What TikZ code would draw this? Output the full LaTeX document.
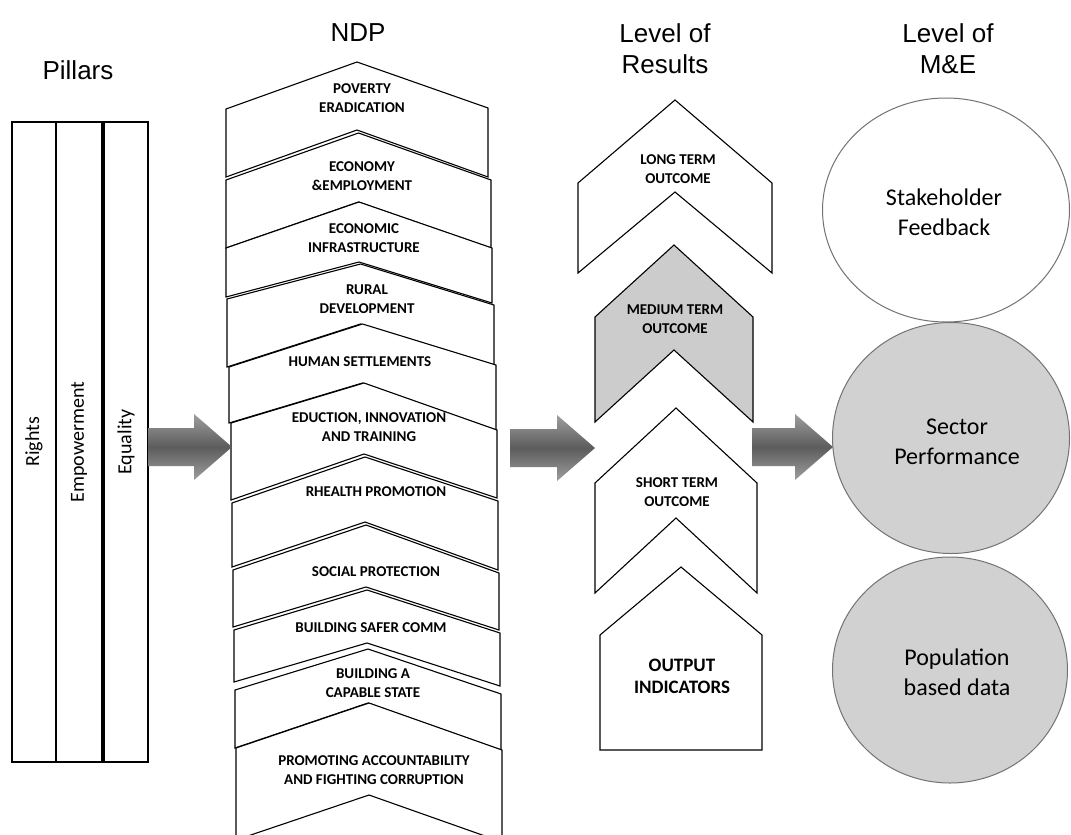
\documentclass[tikz,border=0pt]{standalone}
\usepackage{fontspec}
\usetikzlibrary{shapes.geometric}
\setmainfont{Carlito}
\newfontfamily\arialfont{Liberation Sans}
\definecolor{shadelight}{gray}{0.82}
\definecolor{medfill}{gray}{0.80}
\definecolor{arrowdark}{gray}{0.36}
\definecolor{arrowlight}{gray}{0.62}
\definecolor{circline}{gray}{0.45}
\newcommand{\chevshape}[9]{%
  \draw[#1] (#2,#5) -- ({(#2+#3)/2},#4) -- (#3,#6) -- (#3,#9) -- ({(#2+#3)/2},#7) -- (#2,#8) -- cycle;}
\newcommand{\blockarrow}[4]{%
  \coordinate (#1-tail) at (#2,#4);
  \coordinate (#1-tip) at (#3,#4);
  \path[bigarrow] (#2,#4-19) -- (#3-38,#4-19) -- (#3-38,#4-33) -- (#1-tip) -- (#3-38,#4+33) -- (#3-38,#4+19) -- (#2,#4+19) -- cycle;}
\begin{document}
\begin{tikzpicture}[x=1pt,y=-1pt,
  title/.style={font={\arialfont\fontsize{26}{31}\selectfont},align=center,inner sep=0pt},
  pillar/.style={draw=black,line width=1.3pt,fill=white},
  pillartext/.style={rotate=90,font={\fontsize{20}{24}\selectfont},inner sep=0pt},
  ndp/.style={draw=black,line width=1.1pt,fill=white,line join=miter},
  ndptext/.style={font={\bfseries\fontsize{15}{18.5}\selectfont},align=center,inner sep=0pt},
  reschev/.style={draw=black,line width=1.1pt,fill=white},
  resmed/.style={draw=black,line width=1.1pt,fill=medfill},
  bigarrow/.style={top color=arrowlight,bottom color=arrowlight,middle color=arrowdark,draw=none},
  mecircle/.style={ellipse,draw=circline,line width=1pt,inner sep=0pt,align=center,font={\fontsize{24}{30}\selectfont}},
  metext/.style={inner sep=0pt,align=center,font={\fontsize{24}{30}\selectfont}},
]
\useasboundingbox (0,0) rectangle (1071,835);
\fill[white] (0,0) rectangle (1071,835);

% ---------- titles ----------
\node[title] (tpil) at (78,70) {Pillars};
\node[title] (tndp) at (358,33) {NDP};
\node[title] (tres) at (665,49) {Level of\\Results};
\node[title] (tme) at (948,49) {Level of\\M\&E};

% ---------- pillars ----------
\draw[pillar] (12,122) rectangle (56,762);
\draw[pillar] (56,122) rectangle (102,762);
\draw[pillar] (104,122) rectangle (148,762);
\node[pillartext] (rights) at (34,442) {Rights};
\node[pillartext] (empow) at (79,442) {Empowerment};
\node[pillartext] (equal) at (126,442) {Equality};

% ---------- NDP chevrons ----------
\chevshape{ndp}{226}{488}{62}{109}{108}{130}{177}{177}
\chevshape{ndp}{226}{491}{133}{180}{180}{202}{248}{248}
\chevshape{ndp}{226}{492}{202}{248}{248}{262}{297}{303}
\chevshape{ndp}{227}{494}{264}{299}{305}{324}{367}{365}
\chevshape{ndp}{229}{496}{324}{367}{365}{383}{423}{430}
\chevshape{ndp}{231}{497}{383}{423}{430}{454}{500}{498}
\chevshape{ndp}{232}{498}{457}{503}{501}{522}{567}{570}
\chevshape{ndp}{233}{499}{525}{570}{573}{587}{627}{630}
\chevshape{ndp}{234}{500}{590}{630}{633}{643}{682}{686}
\chevshape{ndp}{235}{501}{649}{690}{694}{703}{748}{750}
\chevshape{ndp}{236}{502}{703}{748}{750}{795}{840}{842}

\node[ndptext] (n1) at (362,98) {POVERTY\\ERADICATION};
\node[ndptext] (n2) at (362,176) {ECONOMY\\\&EMPLOYMENT};
\node[ndptext] (n3) at (364,238) {ECONOMIC\\INFRASTRUCTURE};
\node[ndptext] (n4) at (367,299) {RURAL\\DEVELOPMENT};
\node[ndptext] (n5) at (360,362) {HUMAN SETTLEMENTS};
\node[ndptext] (n6) at (369,427) {EDUCTION, INNOVATION\\AND TRAINING};
\node[ndptext] (n7) at (376,492) {RHEALTH PROMOTION};
\node[ndptext] (n8) at (376,572) {SOCIAL PROTECTION};
\node[ndptext] (n9) at (371,628) {BUILDING SAFER COMM};
\node[ndptext] (n10) at (373,683) {BUILDING A\\CAPABLE STATE};
\node[ndptext] (n11) at (374,770) {PROMOTING ACCOUNTABILITY\\AND FIGHTING CORRUPTION};

% ---------- results chevrons ----------
\chevshape{reschev}{578}{772}{100}{183}{183}{192}{273}{273}
\chevshape{resmed}{595}{753}{245}{317}{317}{350}{422}{422}
\chevshape{reschev}{595}{757}{408}{483}{483}{518}{593}{593}
\draw[reschev] (600,750) -- (600,635) -- (681,567) -- (762,635) -- (762,750) -- cycle;
\node[ndptext] (r1) at (678,169) {LONG TERM\\OUTCOME};
\node[ndptext] (r2) at (675,319) {MEDIUM TERM\\OUTCOME};
\node[ndptext] (r3) at (677,492) {SHORT TERM\\OUTCOME};
\node[ndptext,font={\bfseries\fontsize{19}{22}\selectfont}] (r4) at (682,676) {OUTPUT\\INDICATORS};

% ---------- M&E circles ----------
\node[mecircle,fill=white,minimum width=247pt,minimum height=224pt] (c1) at (946,210) {};
\node[mecircle,fill=shadelight,minimum width=237pt,minimum height=231pt] (c2) at (951,438) {};
\node[mecircle,fill=shadelight,minimum width=235pt,minimum height=226pt] (c3) at (950,670) {};
\node[metext] (c1t) at (944,212) {Stakeholder\\Feedback};
\node[metext] (c2t) at (957,442) {Sector\\Performance};
\node[metext] (c3t) at (957,672) {Population\\based data};

% ---------- block arrows ----------
\blockarrow{a1}{148}{232}{447}
\blockarrow{a2}{510}{595}{448}
\blockarrow{a3}{752}{833}{447}
\end{tikzpicture}
\end{document}
